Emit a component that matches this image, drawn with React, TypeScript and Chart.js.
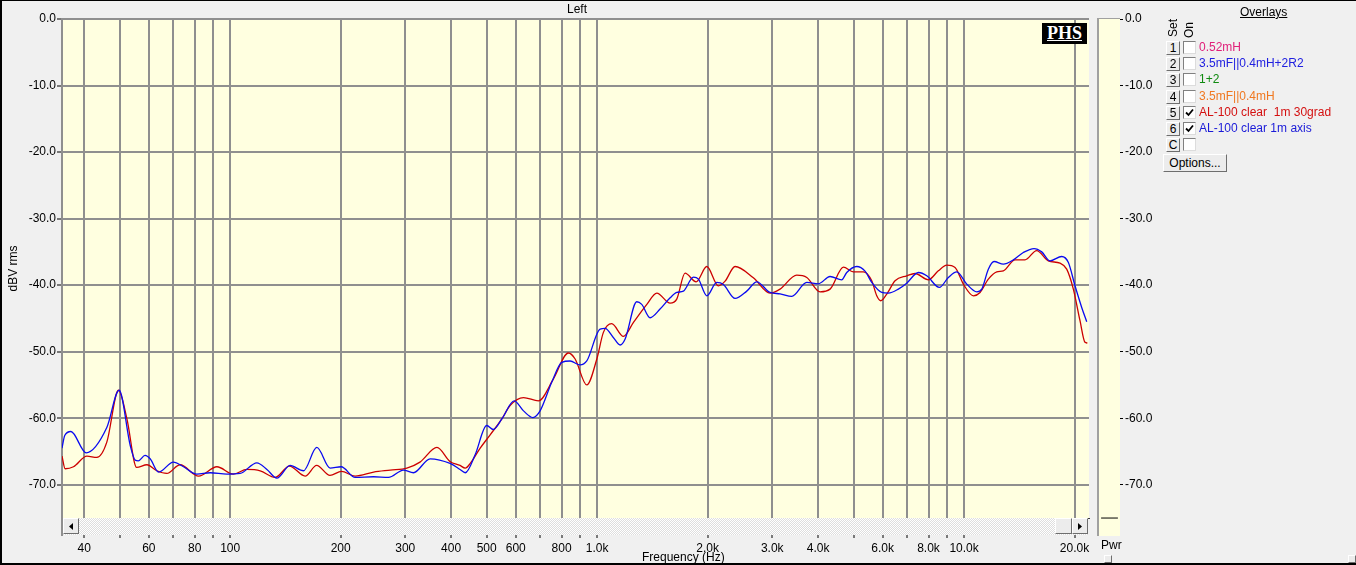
import React, { useEffect, useRef } from "react";
import { Chart, registerables } from "chart.js";

Chart.register(...registerables);

// ---- Axis definitions ----
const freqTicks = [40, 50, 60, 70, 80, 90, 100, 200, 300, 400, 500, 600, 700, 800, 900, 1000, 2000, 3000, 4000, 5000, 6000, 7000, 8000, 9000, 10000, 20000];
const freqTickLabels = ["40", "", "60", "", "80", "", "100", "200", "300", "400", "500", "600", "", "800", "", "1.0k", "2.0k", "3.0k", "4.0k", "", "6.0k", "", "8.0k", "", "10.0k", "20.0k"];
const dbTicks = [0, -10, -20, -30, -40, -50, -60, -70];
const freqMin = 34.8;
const freqMax = 21900;
const dbMin = -75;
const dbMax = 0;

// ---- Series: AL-100 clear 1m axis (blue) ----
const axisFreqHz = [34.8, 35.4, 36.8, 40.5, 46.1, 49.8, 53.4, 55.1, 56.2, 58.6, 60.5, 63.8, 70, 74.6, 81.1, 88.2, 97.9, 106.4, 118.2, 125.9, 134, 145.6, 158.4, 172.2, 187.2, 200.6, 219, 245.7, 270, 296.5, 315.8, 350.6, 397.5, 423, 437, 465, 500, 521, 550, 594, 630, 668, 699, 752, 801, 844, 898, 937, 1019, 1051, 1108, 1155, 1192, 1282, 1323, 1394, 1484, 1581, 1648, 1718, 1830, 1888, 1990, 2119, 2208, 2376, 2557, 2723, 2959, 3151, 3391, 3727, 4007, 4313, 4640, 4789, 5100, 5372, 5603, 5965, 6220, 6620, 6977, 7507, 7913, 8563, 9060, 9551, 10172, 10829, 11172, 11644, 12071, 12795, 13625, 14502, 15511, 16279, 17148, 18450, 19241, 20061, 20920, 21590];
const axisLevelDb = [-64.5, -62.6, -62.0, -65.2, -61.4, -55.8, -64.1, -66.3, -66.4, -65.6, -66.1, -68.1, -66.6, -67.3, -68.4, -68.2, -68.4, -68.3, -66.7, -67.7, -69.0, -67.1, -67.9, -64.4, -67.5, -67.3, -68.9, -68.8, -68.9, -67.8, -68.2, -66.1, -66.8, -67.7, -68.2, -65.5, -61.1, -61.7, -60.1, -57.4, -58.9, -59.9, -58.9, -54.6, -51.6, -51.4, -52.0, -51.4, -46.6, -46.5, -47.9, -49.0, -48.1, -42.5, -42.9, -44.9, -43.6, -41.9, -41.1, -40.9, -38.8, -39.1, -41.6, -39.6, -39.9, -42.0, -40.9, -39.5, -41.1, -41.3, -41.7, -39.6, -39.8, -38.7, -39.2, -38.1, -37.2, -37.9, -39.6, -41.1, -41.2, -40.6, -39.7, -38.1, -38.6, -40.35, -38.85, -38.0, -39.85, -41.0, -40.6, -37.6, -36.45, -36.85, -36.2, -35.1, -34.5, -35.0, -36.35, -35.7, -36.6, -40.1, -43.35, -45.5];

// ---- Series: AL-100 clear 1m 30grad (red) ----
const gradFreqHz = [34.8, 35.5, 37.4, 40.7, 43.3, 46.1, 49.6, 52.3, 55.6, 59.3, 63.1, 67.2, 73, 82, 92, 102, 111, 120.7, 132.6, 145, 160, 172, 187, 201, 219, 246, 273, 303, 329, 366, 397, 423, 437, 451, 480, 511, 550, 579, 630, 692, 760, 835, 871, 937, 998, 1040, 1096, 1179, 1256, 1366, 1454, 1581, 1648, 1736, 1861, 1990, 2140, 2232, 2376, 2665, 2959, 3151, 3499, 3727, 4050, 4313, 4689, 4992, 5316, 5603, 5781, 5928, 6156, 6485, 6977, 7352, 7992, 8508, 8972, 9449, 9956, 10604, 11055, 11644, 12276, 12795, 13769, 14655, 15774, 16967, 18257, 19041, 19850, 20699, 21360, 21672];
const gradLevelDb = [-65.7, -67.6, -67.3, -65.7, -65.9, -63.6, -55.8, -60.1, -67.4, -67.0, -67.9, -68.3, -67.0, -68.7, -67.3, -68.4, -67.7, -67.9, -68.9, -67.2, -68.7, -67.1, -68.6, -68.0, -68.7, -68.1, -67.8, -67.5, -66.6, -64.4, -66.5, -67.1, -67.5, -66.8, -64.5, -62.5, -60.1, -58.1, -56.9, -57.4, -54.1, -50.2, -51.1, -55.0, -51.1, -47.1, -45.8, -47.7, -45.6, -42.9, -41.2, -42.7, -42.1, -38.2, -39.5, -37.2, -40.1, -39.4, -37.2, -38.9, -41.2, -40.6, -38.5, -38.85, -41.0, -40.6, -37.3, -38.0, -38.0, -39.35, -41.6, -42.35, -41.35, -39.35, -38.6, -38.25, -39.2, -37.85, -37.0, -37.35, -39.85, -41.6, -41.1, -39.1, -38.0, -37.85, -36.2, -36.2, -34.8, -36.35, -36.7, -37.6, -40.6, -45.35, -48.6, -48.7];

// ---- Power meter ----
const pwrPos = [0.1, 0.9];
const pwrLevelDb = [-75, -75];
const pwrDbMin = -77.7;

// ---- Overlays legend ----
const overlaySet = ["1", "2", "3", "4", "5", "6", "C"];
const overlayNames = ["0.52mH", "3.5mF||0.4mH+2R2", "1+2", "3.5mF||0.4mH", "AL-100 clear  1m 30grad", "AL-100 clear 1m axis", ""];
const overlayColors = ["#e0207a", "#2020e0", "#108a10", "#f07820", "#d41010", "#1a1ad8", "#000"];
const overlayOn = [false, false, false, false, true, true, false];

const FONT = '"Liberation Sans", Arial, sans-serif';
const PLOT_BG = "#ffffe0";
const GRID = "#8f8f8f";

const bgPlugin = {
  id: "plotBg",
  beforeDraw(chart: any, _args: any, opts: any) {
    const { ctx, chartArea: a } = chart;
    ctx.save();
    ctx.fillStyle = opts.color || PLOT_BG;
    ctx.fillRect(a.left, a.top, a.right - a.left, a.bottom - a.top);
    ctx.restore();
  },
};

function MainChart() {
  const ref = useRef<HTMLCanvasElement | null>(null);
  useEffect(() => {
    if (!ref.current) return;
    const chart = new Chart(ref.current, {
      type: "line",
      data: {
        datasets: [
          {
            label: "AL-100 clear 1m axis",
            data: axisFreqHz.map((f, i) => ({ x: f, y: axisLevelDb[i] })),
            borderColor: "#0a0af0",
            borderWidth: 1.3,
            pointRadius: 0,
            cubicInterpolationMode: "monotone",
          },
          {
            label: "AL-100 clear  1m 30grad",
            data: gradFreqHz.map((f, i) => ({ x: f, y: gradLevelDb[i] })),
            borderColor: "#cc0000",
            borderWidth: 1.3,
            pointRadius: 0,
            cubicInterpolationMode: "monotone",
          },
        ],
      },
      plugins: [bgPlugin],
      options: {
        animation: false,
        responsive: false,
        maintainAspectRatio: false,
        events: [],
        layout: { padding: { top: 19, right: 6, left: 0, bottom: 0 } },
        plugins: {
          legend: { display: false },
          tooltip: { enabled: false },
          title: { display: false },
          plotBg: { color: PLOT_BG },
        } as any,
        scales: {
          x: {
            type: "logarithmic",
            min: freqMin,
            max: freqMax,
            afterBuildTicks: (s: any) => {
              s.ticks = freqTicks.map((v) => ({ value: v }));
            },
            afterFit: (s: any) => {
              s.height = 47;
            },
            ticks: {
              autoSkip: false,
              maxRotation: 0,
              minRotation: 0,
              padding: 3,
              color: "#000",
              font: { family: FONT, size: 12 },
              callback: (_v: any, i: number) => freqTickLabels[i],
            },
            grid: {
              color: GRID,
              lineWidth: 2,
              drawTicks: true,
              tickLength: 20,
              tickColor: "#000",
              tickWidth: 1,
            },
            border: { display: true, color: "#3a3a3a", width: 1 },
          },
          y: {
            type: "linear",
            min: dbMin,
            max: dbMax,
            afterBuildTicks: (s: any) => {
              s.ticks = dbTicks.map((v) => ({ value: v }));
            },
            afterFit: (s: any) => {
              s.width = 62;
            },
            ticks: {
              padding: 1,
              color: "#000",
              font: { family: FONT, size: 12 },
              callback: (v: any) => Number(v).toFixed(1),
            },
            grid: {
              color: GRID,
              lineWidth: 2,
              tickLength: 5,
              tickColor: "#000",
              tickWidth: 1,
            },
            border: { display: true, color: GRID, width: 2 },
            title: {
              display: true,
              text: "dBV rms",
              color: "#000",
              font: { family: FONT, size: 12 },
              padding: { top: 6, bottom: 0 },
            },
          },
        },
      } as any,
    });
    return () => chart.destroy();
  }, []);
  return (
    <canvas
      ref={ref}
      width={1095}
      height={565}
      style={{ position: "absolute", left: 0, top: 0, width: 1095, height: 565 }}
    />
  );
}

function PwrChart() {
  const ref = useRef<HTMLCanvasElement | null>(null);
  useEffect(() => {
    if (!ref.current) return;
    const chart = new Chart(ref.current, {
      type: "line",
      data: {
        datasets: [
          {
            label: "Pwr",
            data: pwrPos.map((p, i) => ({ x: p, y: pwrLevelDb[i] })),
            borderColor: "#000",
            borderWidth: 1,
            pointRadius: 0,
          },
        ],
      },
      plugins: [bgPlugin],
      options: {
        animation: false,
        responsive: false,
        maintainAspectRatio: false,
        events: [],
        layout: { padding: { top: 19, bottom: 29, left: 2, right: 0 } },
        plugins: {
          legend: { display: false },
          tooltip: { enabled: false },
          plotBg: { color: PLOT_BG },
        } as any,
        scales: {
          x: { type: "linear", min: 0, max: 1, display: false },
          y: {
            type: "linear",
            position: "right",
            min: pwrDbMin,
            max: dbMax,
            afterBuildTicks: (s: any) => {
              s.ticks = dbTicks.map((v) => ({ value: v }));
            },
            afterFit: (s: any) => {
              s.width = 40;
            },
            ticks: {
              padding: 2,
              color: "#000",
              font: { family: FONT, size: 12 },
              callback: (v: any) => Number(v).toFixed(1),
            },
            grid: {
              drawOnChartArea: false,
              drawTicks: true,
              tickLength: 3,
              tickColor: "#000",
              tickWidth: 1,
            },
            border: { display: false },
          },
        },
      } as any,
    });
    return () => chart.destroy();
  }, []);
  return (
    <canvas
      ref={ref}
      width={63}
      height={565}
      style={{ position: "absolute", left: 1097, top: 0, width: 63, height: 565 }}
    />
  );
}

const raised: React.CSSProperties = {
  position: "absolute",
  boxSizing: "border-box",
  background: "#ececec",
  borderTop: "1px solid #ffffff",
  borderLeft: "1px solid #ffffff",
  borderRight: "1px solid #6e6e6e",
  borderBottom: "1px solid #6e6e6e",
  fontFamily: FONT,
  fontSize: 12,
  color: "#000",
  textAlign: "center",
};

function Arrow({ dir }: { dir: "left" | "right" }) {
  return (
    <svg width="14" height="14" style={{ position: "absolute", left: 0, top: 0 }}>
      {dir === "left" ? <polygon points="9,4 5,7.5 9,11" fill="#000" /> : <polygon points="5,4 9,7.5 5,11" fill="#000" />}
    </svg>
  );
}

function Legend() {
  const rowTop = (i: number) => 41 + i * 16.2;
  return (
    <>
      <div style={{ position: "absolute", left: 1240, top: 5, fontFamily: FONT, fontSize: 12, textDecoration: "underline", color: "#000" }}>Overlays</div>
      <div style={{ position: "absolute", left: 1167, top: 19, fontFamily: FONT, fontSize: 12, lineHeight: "13px", writingMode: "vertical-rl", transform: "rotate(180deg)", color: "#000" }}>Set</div>
      <div style={{ position: "absolute", left: 1183, top: 22, fontFamily: FONT, fontSize: 12, lineHeight: "13px", writingMode: "vertical-rl", transform: "rotate(180deg)", color: "#000" }}>On</div>
      {overlaySet.map((s, i) => (
        <React.Fragment key={s}>
          <div style={{ ...raised, left: 1166, top: rowTop(i), width: 14, height: 14, lineHeight: "12px" }}>{s}</div>
          <div style={{ position: "absolute", boxSizing: "border-box", left: 1183, top: rowTop(i), width: 13, height: 13, background: "#fff", borderTop: "1px solid #808080", borderLeft: "1px solid #808080", borderRight: "1px solid #dcdcdc", borderBottom: "1px solid #dcdcdc" }}>
            {overlayOn[i] ? (
              <svg width="11" height="11" style={{ position: "absolute", left: 0, top: 0 }}>
                <polyline points="2,5.5 4.5,8 9,2.5" fill="none" stroke="#000" strokeWidth="1.8" />
              </svg>
            ) : null}
          </div>
          <div style={{ position: "absolute", left: 1199, top: rowTop(i) - 1, fontFamily: FONT, fontSize: 12, lineHeight: "14px", color: overlayColors[i], whiteSpace: "pre" }}>{overlayNames[i]}</div>
        </React.Fragment>
      ))}
      <div style={{ ...raised, left: 1163, top: 154, width: 64, height: 18, lineHeight: "16px" }}>Options...</div>
    </>
  );
}

export default function App() {
  return (
    <div style={{ position: "absolute", left: 0, top: 0, width: 1356, height: 565, background: "#f0f0f0", overflow: "hidden" }}>
      <MainChart />
      <PwrChart />
      {/* title */}
      <div style={{ position: "absolute", left: 0, top: 2, width: 1154, textAlign: "center", fontFamily: FONT, fontSize: 12, color: "#000" }}>Left</div>
      {/* PHS logo */}
      <div style={{ position: "absolute", left: 1042, top: 23, width: 45, height: 21, background: "#000", color: "#fff", fontFamily: '"Liberation Serif", "DejaVu Serif", serif', fontWeight: "bold", fontSize: 18, lineHeight: "21px", textAlign: "center", textDecoration: "underline", textUnderlineOffset: "1px" }}>PHS</div>
      {/* scrollbar */}
      <div style={{ position: "absolute", left: 63, top: 518, width: 1025, height: 17, background: "repeating-conic-gradient(#ffffff 0% 25%, #dedede 0% 50%) 0 0 / 2px 2px" }} />
      <div style={{ ...raised, left: 63, top: 518, width: 16, height: 16 }}><Arrow dir="left" /></div>
      <div style={{ ...raised, left: 1055, top: 518, width: 17, height: 16 }} />
      <div style={{ ...raised, left: 1072, top: 518, width: 16, height: 16 }}><Arrow dir="right" /></div>
      {/* plot left border through scroll area */}
      <div style={{ position: "absolute", left: 61, top: 517, width: 2, height: 19, background: GRID }} />
      {/* Pwr panel border */}
      <div style={{ position: "absolute", left: 1097, top: 18, width: 2, height: 518, background: "#a0a0a0" }} />
      <div style={{ position: "absolute", left: 1097, top: 18, width: 23, height: 1, background: "#a0a0a0" }} />
      <div style={{ position: "absolute", left: 1101, top: 538, fontFamily: FONT, fontSize: 12, color: "#000" }}>Pwr</div>
      <div style={{ ...raised, left: 1104, top: 555, width: 8, height: 8 }} />
      <div style={{ ...raised, left: 1348, top: 555, width: 8, height: 8 }} />
      {/* x axis title */}
      <div style={{ position: "absolute", left: 642, top: 550, fontFamily: FONT, fontSize: 12, color: "#000" }}>Frequency (Hz)</div>
      <Legend />
      {/* window frame */}
      <div style={{ position: "absolute", left: 0, top: 0, width: 1356, height: 1, background: "#000" }} />
      <div style={{ position: "absolute", left: 0, top: 0, width: 2, height: 565, background: "#000" }} />
      <div style={{ position: "absolute", left: 0, top: 563, width: 1356, height: 2, background: "#000" }} />
    </div>
  );
}
